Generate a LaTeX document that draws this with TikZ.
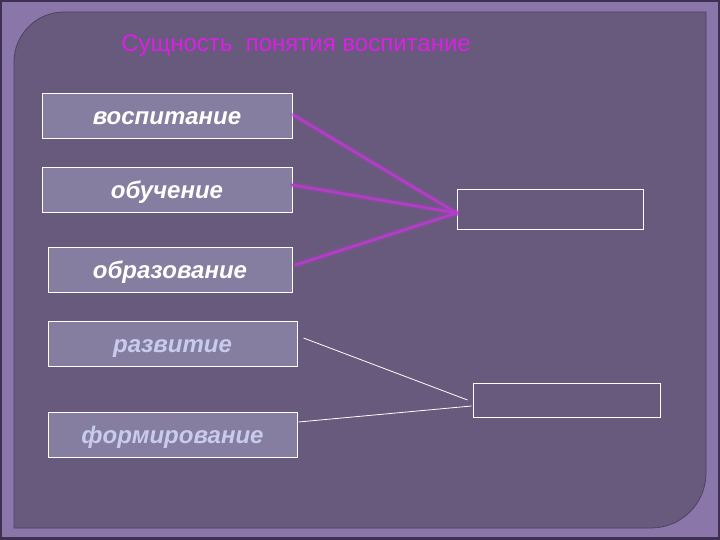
\documentclass[tikz,border=0pt]{standalone}
\usepackage{fontspec}
\setmainfont{Liberation Sans}
\definecolor{frameC}{HTML}{8B76A9}
\definecolor{edgeC}{HTML}{3E3050}
\definecolor{panelC}{HTML}{685A7D}
\definecolor{boxC}{HTML}{867EA0}
\definecolor{titleC}{HTML}{DC1EE6}
\definecolor{magC}{HTML}{B43CC8}
\definecolor{paleC}{HTML}{C8CCEC}
\begin{document}
\begin{tikzpicture}[x=1pt,y=-1pt,
  leftbox/.style={draw=white,line width=1pt,fill=boxC,inner sep=0pt,
    text height=20pt,text depth=3pt,
    font=\bfseries\itshape\fontsize{24}{28}\selectfont},
  rightbox/.style={draw=white,line width=1pt,inner sep=0pt},
  magline/.style={magC,line width=2.6pt,line cap=round},
  glow/.style={magC,line width=6pt,opacity=0.25,line cap=round},
  whiteline/.style={white,line width=0.8pt}]
\useasboundingbox (0,0) rectangle (720,540);
% frame
\fill[edgeC] (0,0) rectangle (720,540);
\fill[frameC] (2,2) rectangle (718,537);
\fill[panelC] (14,528) -- (14,62) .. controls (14,34.4) and (36.4,12) .. (64,12)
  -- (706,12) -- (706,473) .. controls (706,503.4) and (681.4,528) .. (651,528) -- cycle;
\draw[edgeC!60!panelC,line width=0.8pt] (14,528) -- (14,62) .. controls (14,34.4) and (36.4,12) .. (64,12)
  -- (706,12) -- (706,473) .. controls (706,503.4) and (681.4,528) .. (651,528) -- cycle;
% title
\node[text=titleC,font=\fontsize{24}{28}\selectfont] (title) at (296,46) {Сущность\ \ понятия воспитание};
% left boxes
\node[leftbox,text=white,minimum width=250pt,minimum height=45pt] (b1) at (167,116.5) {воспитание};
\node[leftbox,text=white,minimum width=250pt,minimum height=45pt] (b2) at (167,190.5) {обучение};
\node[leftbox,text=white,minimum width=244pt,minimum height=45pt] (b3) at (170,269.5) {образование};
\node[leftbox,text=paleC,minimum width=249pt,minimum height=45pt] (b4) at (172.5,343.5) {развитие};
\node[leftbox,text=paleC,minimum width=249pt,minimum height=45pt] (b5) at (172.5,434.5) {формирование};
% right boxes
\node[rightbox,minimum width=186pt,minimum height=40pt] (rA) at (550,210) {};
\node[rightbox,minimum width=187pt,minimum height=34pt] (rB) at (566.5,400) {};
% magenta connectors
\foreach \s/\o in {b1/{1,-1.5},b2/{0,-5.5},b3/{3,-4.5}}{
  \draw[glow] ([shift={(\o)}]\s.east) -- ([shift={(0,3)}]rA.west);
  \draw[magline] ([shift={(\o)}]\s.east) -- ([shift={(0,3)}]rA.west);
}
% white connectors
\draw[whiteline] ([shift={(6,-5.5)}]b4.east) -- ([shift={(-5,0)}]rB.west);
\draw[whiteline] ([shift={(1,-12.5)}]b5.east) -- ([shift={(-1,6)}]rB.west);
\end{tikzpicture}
\end{document}
